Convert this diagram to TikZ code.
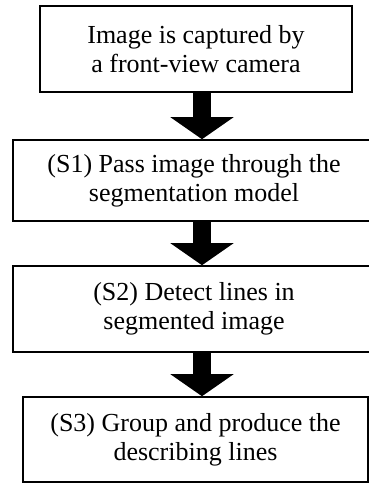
\documentclass[tikz,border=0pt]{standalone}
\usepackage{fontspec}
\setmainfont{Liberation Serif}
\usetikzlibrary{arrows.meta}
\usetikzlibrary{positioning}

\begin{document}
\begin{tikzpicture}[x=1pt,y=1pt,
  every node/.style={draw,line width=1.6pt,align=center,inner sep=0pt,font=\fontsize{26}{29}\selectfont},
  bigarrow/.style={line width=18pt,-{Triangle[width=62pt,length=22pt]}},
  arrowshadow/.style={bigarrow,black!25,xshift=3pt,yshift=-3pt}]
  \useasboundingbox (0,0) rectangle (369,-483);
  \clip (0,0) rectangle (369,-483);

  \node (img) at (196,-49)[minimum width=312,minimum height=86]{Image is captured by\\a front-view camera};
  \node (s1) at (194,-180.5)[minimum width=362,minimum height=81]{(S1) Pass image through the\\segmentation model};
  \node (s2) at (194,-309)[minimum width=362,minimum height=86]{(S2) Detect lines in\\segmented image};
  \node (s3) at (195.5,-439.5)[minimum width=345,minimum height=85]{(S3) Group and produce the\\describing lines};

  % shadows first, then the arrows
  \draw[arrowshadow]([xshift=6pt]img.south)--([xshift=6pt]img.south|-s1.north);
  \draw[arrowshadow]([xshift=8pt]s1.south)--([xshift=8pt]s2.north);
  \draw[arrowshadow]([xshift=8pt]s2.south)--([xshift=8pt]s2.south|-s3.north);
  \draw[bigarrow]([xshift=6pt]img.south)--([xshift=6pt]img.south|-s1.north);
  \draw[bigarrow]([xshift=8pt]s1.south)--([xshift=8pt]s2.north);
  \draw[bigarrow]([xshift=8pt]s2.south)--([xshift=8pt]s2.south|-s3.north);
\end{tikzpicture}
\end{document}
